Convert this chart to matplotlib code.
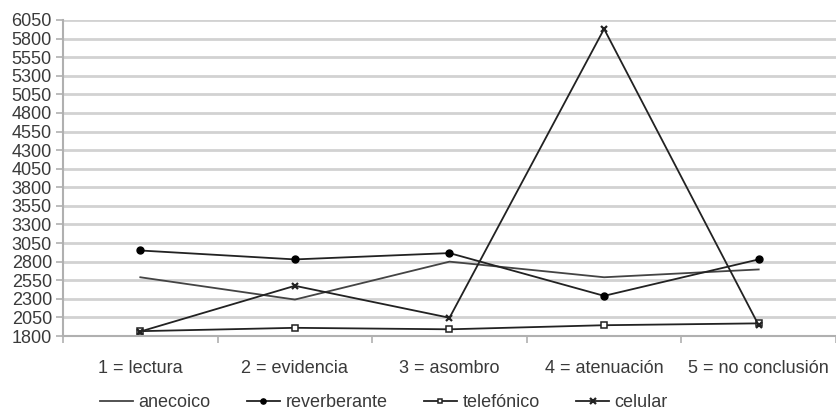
import numpy as np
import matplotlib.pyplot as plt

# categories and series
categories = ["1 = lectura", "2 = evidencia", "3 = asombro", "4 = atenuación", "5 = no conclusión"]
anecoico = [2590, 2290, 2800, 2590, 2695]
reverberante = [2950, 2830, 2915, 2340, 2830]
telefonico = [1865, 1910, 1890, 1945, 1970]
celular = [1860, 2475, 2045, 5930, 1945]

yticks = list(range(1800, 6051, 250))

plt.rcParams['font.family'] = ['Liberation Sans', 'DejaVu Sans']
txt = '#3a3a3a'
grid = '#d2d2d2'
fs = 13

fig = plt.figure(figsize=(8.37, 4.11), dpi=100)
ax = fig.add_axes([63/837, 1 - 336/411, 773/837, 316/411])

x = np.arange(1, len(categories) + 1)
lc = '#222222'
ax.plot(x, anecoico, color='#444444', lw=1.3, label='anecoico')
ax.plot(x, reverberante, color=lc, lw=1.3, marker='o', ms=5, mfc='black', mec='black', label='reverberante')
ax.plot(x, telefonico, color=lc, lw=1.3, marker='s', ms=4, mfc='white', mec=lc, mew=1.1, label='telefónico')
ax.plot(x, celular, color=lc, lw=1.3, marker='x', ms=5, mew=1.6, label='celular')

ax.set_xlim(0.5, len(categories) + 0.5)
ax.set_ylim(1800, 6050)
ax.set_yticks(yticks)
ax.set_yticklabels([str(v) for v in yticks], fontsize=fs, color=txt)
ax.set_xticks(x)
ax.set_xticklabels(categories, fontsize=fs, color=txt)
ax.set_xticks(np.arange(0.5, len(categories) + 1), minor=True)
ax.tick_params(axis='x', which='major', length=0, pad=17)
ax.tick_params(axis='x', which='minor', length=5, color='#b0b0b0', width=1.2)
ax.tick_params(axis='y', length=5, color='#b0b0b0', width=1.2, pad=3)

for yt in yticks:
    ax.axhline(yt, color=grid, lw=2, zorder=0)

for s in ['top', 'right']:
    ax.spines[s].set_visible(False)
ax.spines['left'].set_color('#b0b0b0')
ax.spines['left'].set_linewidth(1.5)
ax.spines['bottom'].set_color('#b0b0b0')
ax.spines['bottom'].set_linewidth(1.5)

leg = ax.legend(loc='center', bbox_to_anchor=(0.415, -0.212), ncol=4, frameon=False,
                fontsize=fs, handlelength=1.85, handletextpad=0.3, columnspacing=2.0,
                markerscale=0.75)
for t in leg.get_texts():
    t.set_color(txt)

fig.savefig('out.png', dpi=100)
